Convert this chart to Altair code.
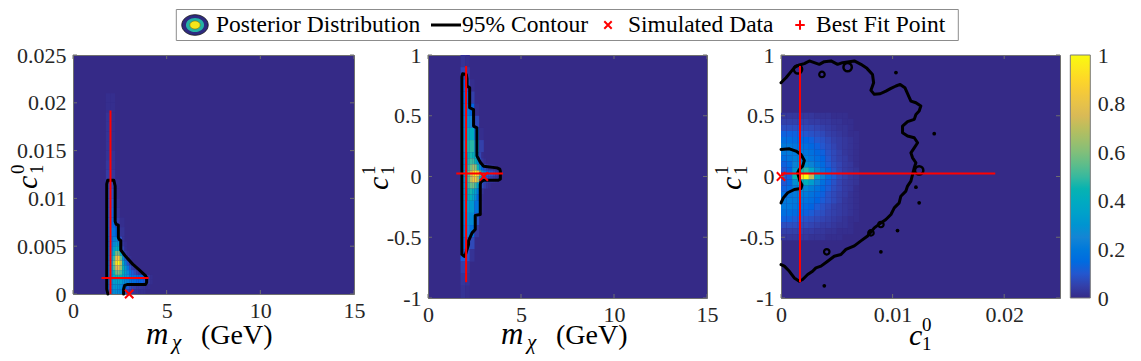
import altair as alt
import pandas as pd

# ---------------- colour map (parula) ----------------
PARULA_COLORS = ["#352a87", "#0363e1", "#1485d4", "#06a7c6", "#38b99e",
                 "#92bf73", "#d9ba56", "#fcce2e", "#f9fb0e"]
PARULA_STOPS = [0, 0.125, 0.25, 0.375, 0.5, 0.625, 0.75, 0.875, 1]
COLORBAR_TICKS = [0, 0.2, 0.4, 0.6, 0.8, 1]

SERIF = "Liberation Serif"
INK = "#262626"

# ---------------- panel 1 : m_chi vs c1^0 ----------------
p1_xticks = [0, 5, 10, 15]
p1_yticks = [0, 0.005, 0.01, 0.015, 0.02, 0.025]
# coarse cells (upper part), percent of max, rows from top to bottom
p1_x_edges = [1.5, 1.75, 2.0, 2.25, 2.5, 2.75, 3.0, 3.25, 3.5, 3.75, 4.0, 4.25, 4.5]
p1_y_edges = [0.021, 0.020, 0.019, 0.018, 0.017, 0.016, 0.015, 0.014, 0.013, 0.012,
              0.011, 0.010, 0.009, 0.008, 0.007, 0.006]
p1_heat = [
    [0, 1, 1],
    [0, 1, 1],
    [0, 2, 1],
    [0, 2, 1],
    [0, 2, 1],
    [0, 2, 1],
    [0, 2, 2],
    [0, 3, 2],
    [0, 4, 3],
    [0, 7, 6, 1],
    [0, 8, 8, 1],
    [0, 9, 10, 2],
    [0, 10, 12, 3],
    [0, 11, 14, 5, 1],
    [0, 12, 17, 13, 2],
]
# fine cells (lower part)
p1_x_edges_fine = [1.75, 1.875, 2.0, 2.125, 2.25, 2.375, 2.5, 2.625, 2.75, 2.875, 3.0,
                   3.125, 3.25, 3.375, 3.5, 3.625, 3.75, 3.875, 4.0, 4.125, 4.25]
p1_y_edges_fine = [0.006, 0.0055, 0.005, 0.0045, 0.004, 0.0035, 0.003, 0.0025, 0.002,
                   0.0015, 0.001, 0.0005, 0.0]
p1_heat_fine = [
    [8, 14, 17, 22, 26, 20, 8, 2],
    [9, 15, 19, 26, 32, 30, 14, 3, 1],
    [10, 16, 22, 32, 42, 42, 24, 6, 1],
    [10, 17, 26, 40, 58, 58, 38, 14, 3, 1],
    [11, 18, 30, 50, 80, 85, 55, 28, 10, 3, 1],
    [11, 18, 32, 58, 92, 100, 70, 40, 20, 8, 3, 1],
    [11, 18, 32, 52, 75, 80, 62, 45, 30, 18, 9, 4, 2, 1],
    [11, 18, 30, 45, 58, 60, 52, 42, 32, 24, 17, 11, 7, 4, 2, 1],
    [10, 17, 28, 38, 45, 46, 42, 36, 30, 25, 21, 18, 16, 15, 14, 13, 12, 8, 3, 1],
    [10, 16, 26, 33, 36, 36, 33, 30, 26, 22, 19, 17, 15, 14, 13, 12, 11, 7, 3, 1],
    [9, 15, 24, 30, 32, 30, 26, 20, 14, 10, 7, 5, 4, 3, 3, 2, 2, 1, 1],
    [8, 14, 22, 27, 28, 26, 22, 16, 10, 6, 4, 3, 2, 2, 1, 1, 1],
]
p1_contour_x = [1.86, 1.80, 1.80, 1.85, 2.18, 2.25, 2.25, 2.30, 2.42, 2.42, 2.47, 2.55,
                2.55, 2.78, 3.20, 3.55, 3.88, 3.93, 3.93, 3.87, 2.92, 2.76, 2.70, 2.70]
p1_contour_y = [0.0, 0.0005, 0.0115, 0.0119, 0.0119, 0.0113, 0.0076, 0.0073, 0.0072,
                0.0059, 0.0057, 0.0056, 0.0046, 0.0040, 0.0031, 0.0025, 0.0019, 0.0017,
                0.0012, 0.0010, 0.0010, 0.0009, 0.0005, 0.0]
p1_best = {"x": 2.0, "y": 0.00167, "xlo": 1.52, "xhi": 4.04, "ylo": 0.0, "yhi": 0.0192}
p1_sim = {"x": 3.0, "y": 0.0}

# ---------------- panel 2 : m_chi vs c1^1 ----------------
p2_xticks = [0, 5, 10, 15]
p2_yticks = [-1, -0.5, 0, 0.5, 1]
p2_x_edges = [1.5, 1.75, 2.0, 2.25, 2.5, 2.75, 3.0, 3.25, 3.5, 3.75, 4.0, 4.25, 4.5]
p2_y_edges_top = [1.0, 0.9, 0.8, 0.7, 0.6, 0.5, 0.4, 0.3, 0.2]
p2_heat_top = [
    [0, 2, 1],
    [0, 6, 4],
    [0, 12, 10, 1],
    [0, 15, 17, 5],
    [0, 17, 23, 13, 1],
    [0, 21, 30, 25, 7],
    [0, 23, 40, 40, 17, 1],
    [0, 25, 46, 48, 30, 5],
]
p2_y_edges_bot = [-0.2, -0.3, -0.4, -0.5, -0.6, -0.7, -0.8, -0.9, -1.0]
p2_heat_bot = [
    [0, 23, 35, 32, 17, 1],
    [0, 21, 30, 26, 9],
    [0, 19, 25, 17, 3],
    [0, 15, 17, 7],
    [0, 11, 9, 2],
    [0, 5, 3],
    [0, 3, 2],
    [0, 2, 1],
]
p2_x_edges_fine = [1.75, 1.875, 2.0, 2.125, 2.25, 2.375, 2.5, 2.625, 2.75, 2.875, 3.0,
                   3.125, 3.25, 3.375, 3.5, 3.625, 3.75, 3.875, 4.0, 4.125, 4.25]
p2_y_edges_fine = [0.2, 0.15, 0.1, 0.05, 0.0, -0.05, -0.1, -0.15, -0.2]
p2_heat_fine = [
    [12, 26, 36, 44, 46, 44, 38, 20, 6, 1],
    [12, 26, 38, 46, 50, 50, 44, 28, 10, 3, 1],
    [12, 26, 40, 50, 58, 66, 62, 45, 26, 14, 8, 5, 3, 2, 1],
    [12, 26, 42, 55, 72, 88, 100, 82, 55, 35, 22, 15, 11, 8, 6, 4, 2, 1],
    [12, 26, 42, 54, 70, 82, 85, 65, 40, 24, 14, 9, 6, 4, 3, 2, 1],
    [12, 26, 40, 50, 56, 58, 50, 34, 18, 8, 4, 2, 1],
    [12, 26, 38, 45, 46, 42, 34, 20, 8, 2],
    [12, 26, 36, 42, 42, 38, 28, 14, 4, 1],
]
p2_contour_x = [1.82, 1.82, 1.86, 2.06, 2.10, 2.10, 2.24, 2.24, 2.45, 2.45, 2.63, 2.63,
                2.80, 2.99, 3.71, 3.86, 3.89, 3.89, 3.80, 2.99, 2.84, 2.81, 2.81, 2.54,
                2.54, 2.37, 2.18, 2.18, 2.02, 1.95, 1.82]
p2_contour_y = [-0.64, 0.82, 0.845, 0.84, 0.80, 0.745, 0.73, 0.566, 0.55, 0.415, 0.40,
                0.17, 0.12, 0.085, 0.071, 0.06, 0.044, -0.02, -0.03, -0.03, -0.045,
                -0.066, -0.313, -0.32, -0.436, -0.464, -0.53, -0.56, -0.64, -0.657, -0.64]
p2_best = {"x": 2.05, "y": 0.025, "xlo": 1.52, "xhi": 4.03, "ylo": -0.87, "yhi": 0.91}
p2_sim = {"x": 3.0, "y": 0.0}

# ---------------- panel 3 : c1^0 vs c1^1 ----------------
p3_xticks = [0, 0.01, 0.02]
p3_yticks = [-1, -0.5, 0, 0.5, 1]
p3_x_edges = [0, 0.0005, 0.001, 0.0015, 0.002, 0.0025, 0.003, 0.0035, 0.004, 0.0045,
              0.005, 0.0055, 0.006, 0.0065, 0.007]
p3_y_edges = [0.525, 0.475, 0.425, 0.375, 0.325, 0.275, 0.225, 0.175, 0.125, 0.075,
              0.025, -0.025, -0.075, -0.125, -0.175, -0.225, -0.275, -0.325, -0.375,
              -0.425, -0.475, -0.525]
p3_heat = [
    [3, 3, 3, 3, 3, 3, 2, 2, 2, 1, 1, 1],
    [5, 5, 5, 5, 5, 4, 4, 3, 3, 2, 2, 1, 1],
    [8, 8, 8, 8, 7, 7, 6, 5, 4, 3, 2, 2, 1],
    [12, 12, 12, 11, 10, 9, 8, 7, 5, 4, 3, 2, 1, 1],
    [16, 16, 15, 14, 13, 12, 10, 9, 7, 5, 4, 3, 2, 1],
    [20, 20, 19, 18, 16, 14, 12, 10, 8, 6, 4, 3, 2, 1],
    [20, 21, 21, 20, 19, 17, 14, 12, 9, 7, 5, 3, 2, 1],
    [16, 19, 22, 23, 22, 19, 16, 13, 10, 7, 5, 4, 2, 1],
    [12, 15, 24, 28, 28, 24, 19, 15, 11, 8, 6, 4, 3, 1],
    [10, 13, 30, 45, 48, 38, 26, 18, 13, 9, 6, 4, 3, 2],
    [9, 12, 45, 90, 100, 70, 38, 24, 16, 11, 7, 5, 3, 2],
    [10, 13, 28, 40, 42, 34, 24, 17, 12, 9, 6, 4, 3, 2],
    [12, 15, 23, 26, 26, 22, 18, 14, 11, 8, 6, 4, 3, 1],
    [16, 19, 21, 22, 21, 18, 15, 12, 9, 7, 5, 4, 2, 1],
    [20, 21, 20, 19, 18, 16, 13, 11, 9, 7, 5, 3, 2, 1],
    [20, 20, 19, 17, 15, 13, 11, 9, 7, 5, 4, 3, 2, 1],
    [16, 16, 15, 14, 12, 11, 9, 8, 6, 5, 4, 3, 2, 1],
    [12, 12, 11, 10, 9, 8, 7, 6, 5, 4, 3, 2, 1, 1],
    [8, 8, 8, 7, 7, 6, 5, 4, 4, 3, 2, 2, 1],
    [5, 5, 5, 5, 4, 4, 3, 3, 2, 2, 1, 1, 1],
    [3, 3, 3, 3, 3, 2, 2, 2, 1, 1, 1],
]
p3_outer_x = [0.0, 0.00045, 0.0009, 0.00125, 0.00164, 0.00209, 0.00254, 0.00298, 0.00343,
              0.00388, 0.00448, 0.00507, 0.00552, 0.00657, 0.00716, 0.0077, 0.0082,
              0.0083, 0.00806, 0.00836, 0.00889, 0.0094, 0.00985, 0.0103, 0.01068,
              0.0111, 0.01164, 0.01209, 0.01253, 0.01238, 0.01209, 0.01194, 0.01134,
              0.01089, 0.01089, 0.01134, 0.01194, 0.01224, 0.01194, 0.01164, 0.01179,
              0.01209, 0.01194, 0.01164, 0.01134, 0.01119, 0.01074, 0.01059, 0.01015,
              0.00985, 0.0094, 0.00895, 0.00836, 0.00776, 0.00716, 0.00657, 0.00582,
              0.00537, 0.00477, 0.00418, 0.00358, 0.00313, 0.00283, 0.00239, 0.00194,
              0.00164, 0.00119, 0.00075, 0.0003, 0.0]
p3_outer_y = [0.772, 0.813, 0.863, 0.901, 0.918, 0.929, 0.951, 0.937, 0.923, 0.945, 0.951,
              0.923, 0.937, 0.951, 0.923, 0.89, 0.84, 0.772, 0.709, 0.676, 0.681, 0.703,
              0.725, 0.745, 0.758, 0.731, 0.621, 0.607, 0.58, 0.539, 0.511, 0.47, 0.451,
              0.415, 0.36, 0.333, 0.319, 0.278, 0.236, 0.195, 0.154, 0.113, 0.072,
              -0.038, -0.079, -0.12, -0.162, -0.217, -0.258, -0.313, -0.354, -0.382,
              -0.423, -0.49, -0.53, -0.571, -0.6, -0.642, -0.656, -0.697, -0.738,
              -0.752, -0.78, -0.807, -0.848, -0.862, -0.835, -0.78, -0.738, -0.725]
p3_inner_x = [0.0, 0.00075, 0.00134, 0.00179, 0.00209, 0.00194, 0.00164, 0.00149, 0.0017,
              0.00188, 0.00179, 0.00119, 0.0006, 0.00021, 0.0]
p3_inner_y = [0.223, 0.228, 0.209, 0.181, 0.132, 0.085, 0.058, 0.03, -0.038, -0.071,
              -0.099, -0.107, -0.134, -0.176, -0.217]
p3_big_loops_x = [0.00597, 0.01238, 0.00152]
p3_big_loops_y = [0.90, 0.05, 0.882]
p3_small_loops_x = [0.00367, 0.0041, 0.00806, 0.00895]
p3_small_loops_y = [0.84, -0.62, -0.464, -0.395]
p3_dots_x = [0.0103, 0.01373, 0.01044, 0.00895, 0.00388, 0.01209, 0.01238]
p3_dots_y = [0.855, 0.352, -0.445, -0.62, -0.90, -0.088, -0.217]
p3_best = {"x": 0.0017, "y": 0.025, "xlo": 0.0, "xhi": 0.0192, "ylo": -0.87, "yhi": 0.91}
p3_sim = {"x": 0.0, "y": 0.0}

LEGEND_LABELS = ["Posterior Distribution", "95% Contour", "Simulated Data", "Best Fit Point"]

# ---------------- helpers ----------------
X_SHAPE = "M-1,-1L1,1M-1,1L1,-1"
PLUS_SHAPE = "M-1,0L1,0M0,-1L0,1"
ELLIPSE = "M-1,0A1,0.78 0 1,0 1,0A1,0.78 0 1,0 -1,0Z"
ONE = pd.DataFrame({"k": [0]})
CSCALE = dict(domain=PARULA_STOPS, range=PARULA_COLORS)


def grid_df(*grids):
    recs = []
    for x_edges, y_edges, rows in grids:
        for i, row in enumerate(rows):
            for j, p in enumerate(row):
                if p > 0:
                    recs.append({"x0": x_edges[j], "x1": x_edges[j + 1],
                                 "y0": y_edges[i + 1], "y1": y_edges[i], "v": p / 100})
    return pd.DataFrame(recs)


def path_df(segments):
    recs = []
    for s, (xs, ys) in enumerate(segments):
        for i, (a, b) in enumerate(zip(xs, ys)):
            recs.append({"seg": s, "i": i, "x": a, "y": b})
    return pd.DataFrame(recs)


def txt(s, x, y, size, italic=False, angle=0, align="left", baseline="alphabetic",
        color="black"):
    kw = dict(font=SERIF, fontSize=size, align=align, baseline=baseline, color=color)
    if italic:
        kw["fontStyle"] = "italic"
    if angle:
        kw["angle"] = angle
    return alt.Chart(ONE).mark_text(**kw).encode(
        x=alt.value(x), y=alt.value(y), text=alt.value(s))


def build_panel(w, h, xdom, ydom, xticks, yticks, heat, paths, best, sim,
                extra=(), legend=None):
    xs = alt.Scale(domain=xdom, nice=False, zero=False)
    ys = alt.Scale(domain=ydom, nice=False, zero=False)
    xax = alt.Axis(values=xticks, labelExpr="'' + datum.value", labelPadding=6)
    yax = alt.Axis(values=yticks, labelExpr="'' + datum.value")

    def X(f):
        return alt.X(f, type="quantitative", scale=xs, axis=xax, title=None)

    def Y(f):
        return alt.Y(f, type="quantitative", scale=ys, axis=yax, title=None)

    heat_l = alt.Chart(heat).mark_rect(strokeWidth=0).encode(
        x=X("x0"), x2="x1", y=Y("y0"), y2="y1",
        color=alt.Color("v:Q", scale=alt.Scale(**CSCALE), legend=legend))
    cont = alt.Chart(paths).mark_line(color="black", strokeWidth=3, strokeJoin="round",
                                      strokeCap="round").encode(
        x=X("x"), y=Y("y"), detail="seg:N", order="i:Q")
    bdf = pd.DataFrame([best])
    hrule = alt.Chart(bdf).mark_rule(color="#ff0000", strokeWidth=2).encode(
        x=X("xlo"), x2="xhi", y=Y("y"))
    vrule = alt.Chart(bdf).mark_rule(color="#ff0000", strokeWidth=2).encode(
        x=X("x"), y=Y("ylo"), y2="yhi")
    simp = alt.Chart(pd.DataFrame([sim])).mark_point(
        shape=X_SHAPE, size=70, color="#ff0000", strokeWidth=2, filled=False,
        opacity=1).encode(x=X("x"), y=Y("y"))
    tx = pd.DataFrame({"t": xticks})
    ty = pd.DataFrame({"t": yticks})
    tc = "#6e6e6e"
    t1 = alt.Chart(tx).mark_rule(color=tc).encode(x=X("t"), y=alt.value(h), y2=alt.value(h - 4))
    t2 = alt.Chart(tx).mark_rule(color=tc).encode(x=X("t"), y=alt.value(0), y2=alt.value(4))
    t3 = alt.Chart(ty).mark_rule(color=tc).encode(y=Y("t"), x=alt.value(0), x2=alt.value(4))
    t4 = alt.Chart(ty).mark_rule(color=tc).encode(y=Y("t"), x=alt.value(w), x2=alt.value(w - 4))
    layers = [heat_l, cont]
    for e in extra:
        layers.append(e(X, Y))
    layers += [hrule, vrule, simp, t1, t2, t3, t4]
    return layers


def p3_islands(X, Y):
    big = alt.Chart(pd.DataFrame({"x": p3_big_loops_x, "y": p3_big_loops_y})).mark_point(
        shape="circle", size=70, filled=False, color="black", strokeWidth=2.5,
        opacity=1).encode(x=X("x"), y=Y("y"))
    small = alt.Chart(pd.DataFrame({"x": p3_small_loops_x, "y": p3_small_loops_y})).mark_point(
        shape="circle", size=30, filled=False, color="black", strokeWidth=2.2,
        opacity=1).encode(x=X("x"), y=Y("y"))
    dots = alt.Chart(pd.DataFrame({"x": p3_dots_x, "y": p3_dots_y})).mark_point(
        shape="circle", size=14, filled=True, color="black", opacity=1).encode(
        x=X("x"), y=Y("y"))
    return alt.layer(big, small, dots)


# ---------------- panels ----------------
W1, H1 = 281, 239
W2, H2 = 279, 243
W3, H3 = 279, 243
TB = 343 - 54  # baseline of x titles measured from the plot top

l1 = build_panel(W1, H1, [0, 15], [0, 0.025], p1_xticks, p1_yticks,
                 grid_df((p1_x_edges, p1_y_edges, p1_heat),
                         (p1_x_edges_fine, p1_y_edges_fine, p1_heat_fine)),
                 path_df([(p1_contour_x, p1_contour_y)]), p1_best, p1_sim)
l1 += [
    txt("m", 73, TB, 31, italic=True),
    txt("χ", 99, TB + 5, 21, italic=True),
    txt("(GeV)", 128, TB, 28),
    txt("c", -36, 134, 30, italic=True, angle=270),
    txt("0", -49, 119, 19, angle=270),
    txt("1", -30, 119, 19, angle=270),
]
panel1 = alt.layer(*l1).properties(width=W1, height=H1)

l2 = build_panel(W2, H2, [0, 15], [-1, 1], p2_xticks, p2_yticks,
                 grid_df((p2_x_edges, p2_y_edges_top, p2_heat_top),
                         (p2_x_edges, p2_y_edges_bot, p2_heat_bot),
                         (p2_x_edges_fine, p2_y_edges_fine, p2_heat_fine)),
                 path_df([(p2_contour_x, p2_contour_y)]), p2_best, p2_sim)
l2 += [
    txt("m", 73, TB, 31, italic=True),
    txt("χ", 99, TB + 5, 21, italic=True),
    txt("(GeV)", 128, TB, 28),
    txt("c", -40, 135, 30, italic=True, angle=270),
    txt("1", -53, 120, 19, angle=270),
    txt("1", -34, 120, 19, angle=270),
]
# figure legend (drawn in panel 2's coordinate frame)
box = alt.Chart(ONE).mark_rect(fill="white", stroke="#8c8c8c", strokeWidth=1).encode(
    x=alt.value(-251.7), x2=alt.value(530.3), y=alt.value(-45.5), y2=alt.value(-14.5))
LY = -30
ell1 = alt.Chart(ONE).mark_point(shape=ELLIPSE, size=700, filled=True, color="#2e2a80",
                                 stroke="#111111", strokeWidth=0.8, opacity=1).encode(
    x=alt.value(-233), y=alt.value(LY))
ell2 = alt.Chart(ONE).mark_point(shape=ELLIPSE, size=330, filled=True, color="#25b3a4",
                                 opacity=1).encode(x=alt.value(-233), y=alt.value(LY))
ell3 = alt.Chart(ONE).mark_point(shape=ELLIPSE, size=110, filled=True, color="#f5e61a",
                                 stroke="#7a6a10", strokeWidth=0.6, opacity=1).encode(
    x=alt.value(-233), y=alt.value(LY))
lline = alt.Chart(ONE).mark_rule(color="black", strokeWidth=3).encode(
    x=alt.value(3), x2=alt.value(33), y=alt.value(LY))
lx = alt.Chart(ONE).mark_point(shape=X_SHAPE, size=55, color="#ff0000", strokeWidth=2,
                               filled=False, opacity=1).encode(x=alt.value(180), y=alt.value(LY))
lp = alt.Chart(ONE).mark_point(shape=PLUS_SHAPE, size=90, color="#ff0000", strokeWidth=2,
                               filled=False, opacity=1).encode(x=alt.value(372), y=alt.value(LY))
l2 += [box, ell1, ell2, ell3, lline, lx, lp,
       txt(LEGEND_LABELS[0], -212, LY, 23.5, baseline="middle"),
       txt(LEGEND_LABELS[1], 34, LY, 23.5, baseline="middle"),
       txt(LEGEND_LABELS[2], 200, LY, 23.5, baseline="middle"),
       txt(LEGEND_LABELS[3], 388, LY, 23.5, baseline="middle")]
panel2 = alt.layer(*l2).properties(width=W2, height=H2)

# colour bar: gradient legend (labels drawn by an axis on a 0..1 scale beside it)
CB_X = 289.3
CB_W = 20
cbar = alt.Legend(
    type="gradient", orient="none", legendX=CB_X, legendY=0, direction="vertical",
    title=None, gradientLength=H3, gradientThickness=CB_W, values=COLORBAR_TICKS,
    labelExpr="''", labelFontSize=1, gradientStrokeColor="#7a7a7a",
    gradientStrokeWidth=1)
l3 = build_panel(W3, H3, [0, 0.025], [-1, 1], p3_xticks, p3_yticks,
                 grid_df((p3_x_edges, p3_y_edges, p3_heat)),
                 path_df([(p3_outer_x, p3_outer_y), (p3_inner_x, p3_inner_y)]),
                 p3_best, p3_sim, extra=(p3_islands,), legend=cbar)
l3 += [
    txt("c", 128, H3 + 47, 30, italic=True),
    txt("0", 141, H3 + 33, 19),
    txt("1", 141, H3 + 52, 19),
    txt("c", -40, 135, 30, italic=True, angle=270),
    txt("1", -53, 120, 19, angle=270),
    txt("1", -34, 120, 19, angle=270),
]
cb_axis = alt.Chart(pd.DataFrame({"t": COLORBAR_TICKS})).mark_point(opacity=0).encode(
    y=alt.Y("t:Q", title=None,
            scale=alt.Scale(domain=[0, 1], nice=False, zero=False),
            axis=alt.Axis(orient="right", offset=CB_X + CB_W - W3, values=COLORBAR_TICKS,
                          labelExpr="'' + datum.value", labelPadding=7)))
panel3 = alt.layer(alt.layer(*l3), cb_axis).resolve_scale(y="independent").properties(
    width=W3, height=H3)

chart = alt.hconcat(panel1, panel2, panel3, spacing=74, bounds="flush").resolve_scale(
    color="independent"
).configure_view(
    fill="#352a87", stroke="#707070", strokeWidth=1
).configure_axis(
    labelFont=SERIF, labelFontSize=22, labelColor=INK, domain=False, ticks=False,
    grid=False, labelPadding=7, labelFlush=False, labelOverlap=False
).properties(
    padding={"left": 0, "top": 0, "right": 0, "bottom": 0}, background="white"
)

chart.save("out.html", embed_options={"renderer": "svg", "actions": False})
